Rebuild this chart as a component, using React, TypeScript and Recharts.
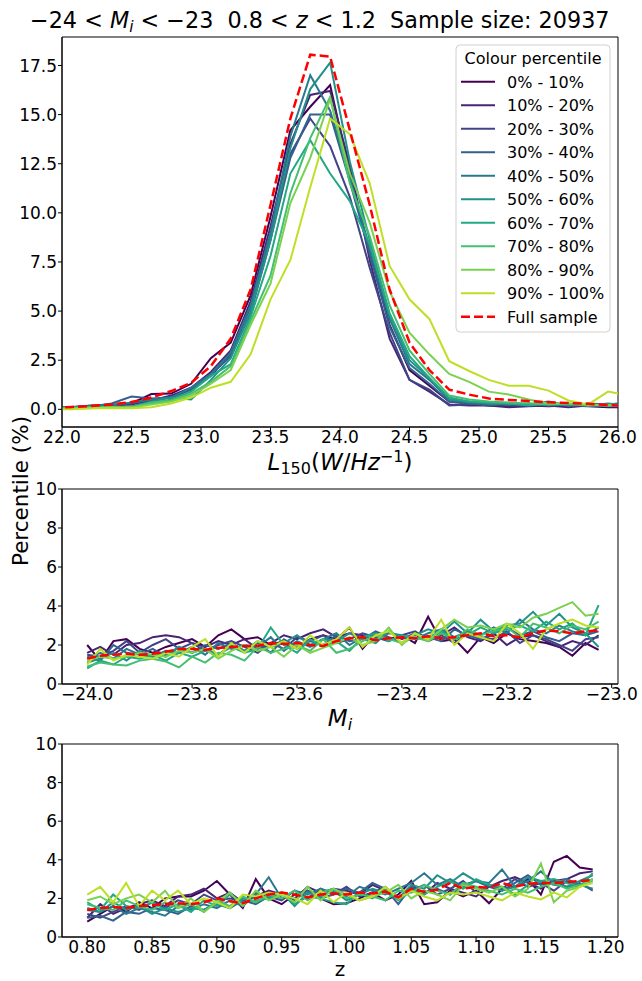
import { LineChart, Line, XAxis, YAxis, ReferenceArea } from 'recharts'

// viridis, one colour per colour-percentile bin
const VIRIDIS = ['#440154', '#482475', '#414487', '#355f8d', '#2a788e', '#21918c', '#22a884', '#44bf70', '#7ad151', '#bddf26']
const PCT_LABELS = ['0% - 10%', '10% - 20%', '20% - 30%', '30% - 40%', '40% - 50%', '50% - 60%', '60% - 70%', '70% - 80%', '80% - 90%', '90% - 100%']

// ---- top panel: L150 distribution (bin centres) ----
const lumX = [21.929, 22.071, 22.214, 22.357, 22.5, 22.643, 22.786, 22.929, 23.071, 23.214, 23.357, 23.5, 23.643, 23.786, 23.929, 24.071, 24.214, 24.357, 24.5, 24.643, 24.786, 24.929, 25.071, 25.214, 25.357, 25.5, 25.643, 25.786, 25.929, 26.071]
const lumP0 = [0.1, 0.12, 0.15, 0.2, 0.3, 0.78, 0.8, 1.3, 2.6, 3.4, 5.8, 9.8, 14.2, 15.4, 16.5, 12.0, 8.0, 4.3, 2.0, 1.2, 0.4, 0.3, 0.2, 0.15, 0.2, 0.15, 0.2, 0.15, 0.1, 0.1]
const lumP1 = [0.1, 0.1, 0.15, 0.2, 0.25, 0.45, 0.7, 1.1, 1.9, 3.0, 5.5, 9.3, 13.5, 16.0, 16.2, 12.4, 7.6, 3.6, 1.5, 0.9, 0.25, 0.2, 0.2, 0.1, 0.15, 0.2, 0.1, 0.2, 0.15, 0.1]
const lumP2 = [0.1, 0.1, 0.2, 0.25, 0.3, 0.5, 0.6, 1.0, 1.7, 2.8, 5.2, 8.8, 13.0, 14.8, 13.4, 10.8, 7.2, 3.9, 1.5, 1.0, 0.2, 0.25, 0.3, 0.2, 0.2, 0.25, 0.2, 0.2, 0.15, 0.2]
const lumP3 = [0.1, 0.1, 0.15, 0.3, 0.65, 0.55, 0.6, 1.0, 1.8, 2.7, 4.9, 8.6, 12.8, 15.0, 15.0, 11.6, 7.9, 4.2, 2.1, 1.3, 0.4, 0.3, 0.2, 0.3, 0.25, 0.4, 0.2, 0.3, 0.25, 0.35]
const lumP4 = [0.1, 0.1, 0.2, 0.2, 0.35, 0.5, 0.6, 1.1, 1.8, 2.9, 5.3, 9.0, 13.9, 17.0, 15.2, 11.8, 8.2, 4.6, 2.3, 1.5, 0.5, 0.35, 0.3, 0.25, 0.3, 0.2, 0.25, 0.2, 0.3, 0.2]
const lumP5 = [0.1, 0.05, 0.1, 0.1, 0.15, 0.4, 0.6, 0.5, 1.5, 2.6, 5.0, 8.6, 13.3, 16.3, 17.65, 12.6, 8.6, 4.8, 2.5, 1.6, 0.5, 0.4, 0.3, 0.3, 0.25, 0.3, 0.2, 0.25, 0.2, 0.15]
const lumP6 = [0.05, 0.1, 0.1, 0.1, 0.1, 0.3, 0.5, 0.9, 1.7, 2.3, 4.7, 7.8, 12.0, 13.7, 12.0, 10.6, 8.4, 4.9, 2.7, 1.6, 0.6, 0.4, 0.35, 0.3, 0.2, 0.3, 0.25, 0.2, 0.2, 0.15]
const lumP7 = [0.05, 0.05, 0.1, 0.1, 0.1, 0.35, 0.45, 0.8, 1.4, 2.2, 4.5, 6.8, 11.0, 13.8, 15.9, 11.5, 8.8, 5.3, 3.0, 1.8, 0.7, 0.5, 0.4, 0.35, 0.3, 0.25, 0.3, 0.2, 0.25, 0.2]
const lumP8 = [0.0, 0.05, 0.05, 0.1, 0.1, 0.25, 0.4, 0.7, 1.3, 2.0, 4.3, 6.4, 10.5, 12.8, 15.8, 12.0, 9.5, 6.0, 3.9, 2.8, 1.8, 1.4, 0.9, 0.75, 0.5, 0.3, 0.3, 0.25, 0.2, 0.2]
const lumP9 = [0.0, 0.0, 0.05, 0.05, 0.05, 0.1, 0.3, 0.6, 1.1, 1.4, 2.8, 5.6, 7.6, 11.3, 14.8, 14.0, 11.5, 7.3, 5.6, 4.6, 2.45, 1.95, 1.5, 1.2, 1.2, 0.95, 0.45, 0.25, 0.9, 0.7]
const lumFull = [0.08, 0.12, 0.17, 0.25, 0.37, 0.6, 0.93, 1.35, 2.2, 3.6, 6.1, 10.4, 14.8, 18.05, 17.95, 14.2, 10.4, 6.1, 3.4, 2.0, 1.0, 0.75, 0.55, 0.48, 0.42, 0.36, 0.32, 0.28, 0.22, 0.18]

// ---- middle panel: M_i ----
const magX = [-24.0, -23.975, -23.95, -23.925, -23.9, -23.875, -23.85, -23.825, -23.8, -23.775, -23.75, -23.725, -23.7, -23.675, -23.65, -23.625, -23.6, -23.575, -23.55, -23.525, -23.5, -23.475, -23.45, -23.425, -23.4, -23.375, -23.35, -23.325, -23.3, -23.275, -23.25, -23.225, -23.2, -23.175, -23.15, -23.125, -23.1, -23.075, -23.05, -23.025]
const magP0 = [2.0, 1.2, 2.2, 2.3, 1.8, 1.6, 1.9, 2.1, 2.3, 1.9, 2.5, 2.8, 2.3, 2.4, 2.0, 2.2, 1.8, 2.3, 2.5, 2.3, 2.9, 1.8, 2.6, 2.3, 2.5, 2.1, 3.45, 2.2, 2.3, 1.6, 2.4, 2.1, 2.6, 2.3, 2.2, 2.1, 1.9, 1.45, 2.1, 1.75]
const magP1 = [1.6, 1.9, 1.5, 2.0, 2.1, 2.4, 2.5, 2.4, 2.1, 1.9, 2.2, 2.0, 2.3, 1.8, 2.1, 2.5, 2.3, 2.6, 2.8, 2.4, 2.6, 2.5, 2.2, 2.7, 2.3, 2.6, 2.2, 2.5, 2.9, 2.4, 2.2, 2.6, 2.0, 2.4, 2.5, 2.2, 1.9, 2.2, 2.0, 2.5]
const magP2 = [1.5, 1.4, 1.7, 2.2, 1.6, 2.0, 2.3, 1.8, 2.1, 1.7, 2.0, 2.2, 1.9, 1.6, 2.1, 1.8, 2.4, 2.2, 2.5, 2.1, 2.3, 2.6, 2.4, 2.2, 2.5, 2.7, 2.3, 2.5, 2.1, 2.6, 2.4, 2.3, 2.7, 2.1, 2.5, 2.3, 2.0, 1.7, 2.3, 2.4]
const magP3 = [1.4, 1.2, 2.0, 1.6, 1.5, 1.8, 1.4, 1.9, 1.6, 2.0, 1.8, 2.1, 1.7, 2.1, 1.6, 2.3, 1.9, 2.2, 2.0, 2.5, 2.2, 2.3, 2.7, 2.4, 2.1, 2.6, 2.4, 2.2, 2.8, 2.5, 2.3, 2.6, 2.9, 2.5, 2.7, 2.4, 2.2, 2.6, 2.5, 2.7]
const magP4 = [1.3, 1.6, 1.3, 1.8, 1.5, 1.4, 1.7, 1.6, 1.9, 1.5, 2.1, 1.8, 2.0, 1.9, 2.4, 1.7, 2.2, 1.9, 2.3, 2.6, 2.0, 2.4, 2.3, 2.6, 2.5, 2.3, 2.6, 2.8, 2.4, 2.7, 2.5, 2.9, 2.6, 3.3, 2.8, 2.6, 3.0, 2.7, 2.5, 2.9]
const magP5 = [1.1, 1.3, 1.6, 1.2, 1.7, 1.4, 1.5, 1.9, 1.6, 1.8, 1.5, 2.0, 1.7, 2.2, 1.9, 2.1, 2.5, 2.0, 2.3, 2.2, 2.6, 2.3, 2.1, 2.7, 2.4, 2.5, 2.8, 2.6, 3.2, 2.6, 3.3, 2.7, 3.0, 3.1, 3.7, 3.0, 3.6, 2.9, 2.6, 1.9]
const magP6 = [0.8, 1.2, 1.0, 1.4, 1.3, 1.5, 1.2, 1.6, 1.4, 1.7, 1.5, 1.9, 1.6, 1.8, 2.9, 2.0, 1.6, 2.3, 1.9, 2.2, 1.7, 2.4, 2.6, 2.2, 2.5, 2.3, 2.4, 2.7, 2.3, 2.5, 2.9, 2.6, 2.8, 3.0, 2.7, 3.2, 2.8, 3.1, 2.5, 4.05]
const magP7 = [0.9, 1.1, 1.0, 0.95, 1.2, 1.3, 1.15, 0.85, 1.4, 1.1, 1.6, 1.5, 1.2, 1.9, 1.6, 1.8, 2.0, 1.7, 2.3, 1.6, 1.8, 2.2, 2.5, 2.3, 2.1, 2.4, 2.2, 2.6, 2.3, 2.8, 2.5, 2.7, 2.9, 2.4, 3.1, 2.9, 2.6, 3.0, 2.8, 3.2]
const magP8 = [1.2, 1.4, 1.3, 1.4, 1.6, 1.5, 1.4, 1.7, 1.6, 1.8, 1.3, 1.7, 2.0, 1.7, 1.9, 1.4, 2.0, 1.6, 1.85, 2.1, 2.4, 2.0, 2.2, 2.9, 2.0, 2.6, 2.2, 2.8, 3.3, 2.9, 3.0, 2.8, 3.1, 2.9, 3.4, 3.6, 3.9, 4.2, 3.5, 3.6]
const magP9 = [1.0, 1.8, 1.2, 1.5, 1.4, 1.3, 1.6, 1.4, 1.9, 2.3, 1.4, 2.1, 1.6, 2.2, 1.9, 2.2, 1.8, 2.5, 2.0, 2.3, 2.9, 1.9, 2.5, 2.7, 2.1, 2.6, 2.3, 3.3, 2.0, 2.6, 2.4, 2.2, 3.1, 2.6, 1.8, 2.8, 3.1, 3.3, 3.0, 2.9]
const magFull = [1.3, 1.45, 1.5, 1.55, 1.5, 1.55, 1.65, 1.8, 1.8, 1.75, 1.85, 1.9, 1.95, 1.95, 2.1, 2.05, 2.1, 2.0, 1.95, 2.2, 2.35, 2.4, 2.25, 2.35, 2.4, 2.35, 2.45, 2.35, 2.4, 2.5, 2.6, 2.45, 2.5, 2.4, 2.6, 2.75, 2.7, 2.6, 2.7, 2.75]

// ---- bottom panel: redshift ----
const zX = [0.80, 0.81, 0.82, 0.83, 0.84, 0.85, 0.86, 0.87, 0.88, 0.89, 0.90, 0.91, 0.92, 0.93, 0.94, 0.95, 0.96, 0.97, 0.98, 0.99, 1.00, 1.01, 1.02, 1.03, 1.04, 1.05, 1.06, 1.07, 1.08, 1.09, 1.10, 1.11, 1.12, 1.13, 1.14, 1.15, 1.16, 1.17, 1.18, 1.19]
const zP0 = [0.8, 1.2, 1.6, 1.3, 1.8, 1.5, 2.0, 2.1, 2.1, 2.4, 2.9, 2.2, 1.5, 3.0, 2.0, 1.7, 2.2, 2.4, 2.0, 1.7, 1.75, 2.0, 2.3, 1.9, 2.2, 2.9, 1.7, 1.8, 2.4, 2.1, 2.4, 1.75, 2.5, 2.6, 3.0, 2.2, 3.9, 4.2, 3.6, 3.5]
const zP1 = [1.0, 1.7, 1.2, 1.5, 1.7, 1.9, 1.6, 2.1, 2.2, 2.5, 2.0, 2.3, 1.8, 2.1, 2.4, 2.2, 2.0, 2.6, 2.3, 2.5, 2.4, 2.2, 2.7, 2.4, 2.0, 2.6, 2.2, 2.8, 2.5, 2.3, 2.1, 2.6, 2.9, 3.1, 2.8, 2.5, 2.9, 3.0, 3.3, 3.4]
const zP2 = [1.2, 1.0, 1.3, 1.6, 1.4, 1.8, 1.5, 1.9, 1.7, 2.2, 1.9, 2.0, 1.8, 2.3, 2.1, 1.9, 2.4, 2.0, 2.5, 2.2, 2.6, 2.1, 2.3, 2.6, 2.0, 2.4, 2.7, 2.2, 2.5, 2.9, 2.3, 2.7, 2.5, 3.0, 2.6, 2.8, 2.4, 2.9, 2.7, 3.0]
const zP3 = [1.0, 1.1, 0.85, 1.3, 1.2, 1.5, 1.4, 1.2, 1.6, 1.4, 1.8, 1.5, 1.9, 1.7, 2.1, 2.3, 1.9, 2.4, 2.0, 2.2, 2.5, 2.3, 2.8, 2.5, 1.7, 2.6, 2.3, 2.5, 2.2, 2.7, 2.9, 2.6, 2.4, 2.8, 3.2, 2.7, 2.9, 2.6, 2.8, 2.4]
const zP4 = [1.4, 1.3, 1.6, 1.2, 1.5, 1.3, 1.1, 1.6, 1.4, 1.7, 1.5, 1.9, 1.6, 2.2, 3.1, 2.0, 2.4, 2.2, 2.5, 2.3, 2.1, 2.6, 2.4, 2.2, 2.5, 2.8, 3.3, 2.7, 3.0, 2.6, 2.9, 2.8, 3.5, 2.6, 2.9, 3.4, 2.8, 3.0, 2.7, 2.5]
const zP5 = [1.5, 1.3, 1.8, 1.4, 1.6, 1.2, 1.5, 1.3, 1.5, 1.4, 1.7, 1.5, 2.0, 1.8, 2.1, 2.3, 1.6, 2.3, 2.1, 2.4, 1.9, 2.2, 2.5, 2.3, 2.0, 2.7, 2.5, 3.2, 2.8, 3.3, 2.9, 2.7, 2.4, 2.6, 3.1, 2.9, 2.7, 2.6, 2.9, 3.2]
const zP6 = [1.8, 1.4, 2.2, 1.6, 1.5, 1.8, 1.4, 1.7, 1.3, 1.9, 1.6, 2.2, 1.8, 1.9, 2.0, 2.3, 1.7, 2.1, 2.0, 1.8, 1.7, 2.3, 2.0, 2.5, 1.9, 2.4, 2.2, 2.6, 2.9, 2.5, 3.0, 2.7, 2.6, 2.2, 2.7, 2.9, 3.0, 2.8, 2.6, 3.3]
const zP7 = [1.7, 1.5, 1.4, 1.9, 1.6, 1.4, 1.8, 1.5, 1.7, 1.3, 1.9, 1.6, 2.1, 1.8, 2.2, 2.0, 2.4, 1.9, 2.3, 2.5, 2.0, 2.2, 2.1, 1.9, 2.4, 2.3, 2.7, 2.4, 2.2, 2.8, 2.6, 2.4, 2.2, 2.5, 2.3, 2.6, 2.8, 2.5, 2.7, 2.9]
const zP8 = [1.9, 2.1, 1.7, 2.0, 2.2, 1.8, 2.4, 1.5, 2.0, 1.3, 1.8, 2.3, 1.6, 2.4, 1.9, 2.2, 1.8, 2.6, 1.9, 2.5, 2.2, 1.9, 2.1, 2.3, 2.7, 2.0, 2.4, 2.2, 1.9, 2.7, 2.5, 2.3, 2.6, 2.1, 2.5, 3.8, 1.8, 2.4, 2.6, 3.0]
const zP9 = [2.2, 2.6, 1.8, 2.8, 1.6, 2.4, 1.9, 2.4, 1.7, 2.0, 1.8, 1.5, 2.2, 2.1, 2.3, 2.2, 2.0, 1.7, 2.4, 1.8, 2.3, 1.9, 2.1, 2.6, 2.0, 2.4, 2.1, 1.9, 2.3, 2.2, 2.3, 2.1, 1.9, 2.3, 2.1, 1.95, 2.3, 2.05, 2.6, 2.8]
const zFull = [1.4, 1.5, 1.55, 1.5, 1.6, 1.65, 1.7, 1.75, 1.7, 1.8, 2.0, 1.85, 1.75, 2.0, 2.2, 2.3, 2.2, 2.05, 2.2, 2.25, 2.2, 2.3, 2.25, 2.35, 2.05, 2.5, 2.35, 2.45, 2.8, 2.5, 2.6, 2.55, 2.8, 2.6, 2.75, 2.8, 2.8, 2.85, 2.9, 2.95]

const lumTicks = [22, 22.5, 23, 23.5, 24, 24.5, 25, 25.5, 26]
const lumYTicks = [0, 2.5, 5, 7.5, 10, 12.5, 15, 17.5]
const magTicks = [-24, -23.8, -23.6, -23.4, -23.2, -23]
const zTicks = [0.8, 0.85, 0.9, 0.95, 1.0, 1.05, 1.1, 1.15, 1.2]
const pctTicks = [0, 2, 4, 6, 8, 10]

function buildRows(xs: number[], series: number[][], full: number[]) {
  return xs.map((x, i) => {
    const row: any = { x, full: full[i] }
    series.forEach((s, j) => { row['s' + j] = s[i] })
    return row
  })
}

const fmt = (d: number) => (v: number) => (v < 0 ? '\u2212' : '') + Math.abs(v).toFixed(d)

const tickStyle = { fill: '#000', fontSize: 17 }

function Panel({ data, height, margin, xDomain, xTicks, xFmt, yDomain, yTicks, yFmt }: any) {
  return (
    <LineChart width={642} height={height} data={data} margin={margin}>
      <XAxis dataKey="x" type="number" domain={xDomain} ticks={xTicks} tickFormatter={xFmt}
        allowDataOverflow interval={0} height={30} tickSize={4} tickMargin={0}
        tick={tickStyle} axisLine={{ stroke: '#000' }} tickLine={{ stroke: '#000' }} />
      <YAxis type="number" domain={yDomain} ticks={yTicks} tickFormatter={yFmt} allowDataOverflow
        interval={0} width={62} tickSize={4} tickMargin={1}
        tick={tickStyle} axisLine={{ stroke: '#000' }} tickLine={{ stroke: '#000' }} />
      {/* axes frame (top and right spines) */}
      <ReferenceArea x1={xDomain[0]} x2={xDomain[1]} y1={yDomain[0]} y2={yDomain[1]}
        fill="none" stroke="#000" strokeWidth={1} ifOverflow="visible" />
      {VIRIDIS.map((c, j) => (
        <Line key={j} type="linear" dataKey={'s' + j} stroke={c} strokeWidth={2} dot={false}
          isAnimationActive={false} />
      ))}
      <Line type="linear" dataKey="full" stroke="#ff0000" strokeWidth={2.5} strokeDasharray="9 4"
        dot={false} isAnimationActive={false} />
    </LineChart>
  )
}

export default function App() {
  const lumRows = buildRows(lumX, [lumP0, lumP1, lumP2, lumP3, lumP4, lumP5, lumP6, lumP7, lumP8, lumP9], lumFull)
  const magRows = buildRows(magX, [magP0, magP1, magP2, magP3, magP4, magP5, magP6, magP7, magP8, magP9], magFull)
  const zRows = buildRows(zX, [zP0, zP1, zP2, zP3, zP4, zP5, zP6, zP7, zP8, zP9], zFull)

  const legendY0 = 81.7
  const legendStep = 23.5

  return (
    <div style={{ position: 'absolute', left: 0, top: 0, width: 642, height: 981, background: '#fff', fontFamily: '"DejaVu Sans", sans-serif' }}>
      <div style={{ position: 'absolute', left: 0, top: 0 }}>
        <Panel data={lumRows} height={470} margin={{ top: 37, right: 24, bottom: 13, left: 0 }}
          xDomain={[22, 26]} xTicks={lumTicks} xFmt={fmt(1)}
          yDomain={[-0.9, 18.95]} yTicks={lumYTicks} yFmt={fmt(1)} />
      </div>
      <div style={{ position: 'absolute', left: 0, top: 470 }}>
        <Panel data={magRows} height={260} margin={{ top: 19, right: 24, bottom: 16, left: 0 }}
          xDomain={[-24.048, -22.988]} xTicks={magTicks} xFmt={fmt(1)}
          yDomain={[0, 10]} yTicks={pctTicks} yFmt={fmt(0)} />
      </div>
      <div style={{ position: 'absolute', left: 0, top: 727 }}>
        <Panel data={zRows} height={251} margin={{ top: 17, right: 24, bottom: 11, left: 0 }}
          xDomain={[0.7805, 1.2095]} xTicks={zTicks} xFmt={fmt(2)}
          yDomain={[0, 10]} yTicks={pctTicks} yFmt={fmt(0)} />
      </div>

      <svg width={642} height={981} style={{ position: 'absolute', left: 0, top: 0, pointerEvents: 'none' }}>
        {/* title */}
        <text x={30} y={28} fontSize={22.3} fill="#000" style={{ whiteSpace: 'pre' }}>
          {'\u221224 < '}
          <tspan fontStyle="italic">M</tspan>
          <tspan fontStyle="italic" fontSize={15.5} dy={4}>i</tspan>
          <tspan dy={-4}>{' < \u221223  0.8 < '}</tspan>
          <tspan fontStyle="italic">z</tspan>
          <tspan>{' < 1.2  Sample size: 20937'}</tspan>
        </text>

        {/* axis labels */}
        <text x={340} y={470} fontSize={23} textAnchor="middle" fill="#000">
          <tspan fontStyle="italic">L</tspan>
          <tspan fontSize={16} dy={4}>150</tspan>
          <tspan dy={-4}>(</tspan>
          <tspan fontStyle="italic">W</tspan>
          <tspan>/</tspan>
          <tspan fontStyle="italic">Hz</tspan>
          <tspan fontSize={16} dy={-8}>{'\u22121'}</tspan>
          <tspan dy={8}>)</tspan>
        </text>
        <text x={340} y={726} fontSize={23} textAnchor="middle" fill="#000">
          <tspan fontStyle="italic">M</tspan>
          <tspan fontStyle="italic" fontSize={16} dy={4}>i</tspan>
        </text>
        <text x={340} y={976} fontSize={20} textAnchor="middle" fill="#000">z</text>
        <text transform="translate(28,491) rotate(-90)" fontSize={21.5} textAnchor="middle" fill="#000">Percentile (%)</text>

        {/* legend */}
        <rect x={456} y={45} width={154} height={287} rx={4} fill="#fff" fillOpacity={0.8} stroke="#d0d0d0" />
        <text x={533} y={63.5} fontSize={16} textAnchor="middle" fill="#000">Colour percentile</text>
        {PCT_LABELS.map((lab, j) => (
          <g key={lab}>
            <line x1={461} x2={495} y1={legendY0 + j * legendStep} y2={legendY0 + j * legendStep}
              stroke={VIRIDIS[j]} strokeWidth={2} />
            <text x={507} y={legendY0 + j * legendStep + 6} fontSize={16} fill="#000">{lab}</text>
          </g>
        ))}
        <line x1={461} x2={495} y1={legendY0 + 10 * legendStep} y2={legendY0 + 10 * legendStep}
          stroke="#ff0000" strokeWidth={2.5} strokeDasharray="9 4" />
        <text x={507} y={legendY0 + 10 * legendStep + 6} fontSize={16} fill="#000">Full sample</text>
      </svg>
    </div>
  )
}
